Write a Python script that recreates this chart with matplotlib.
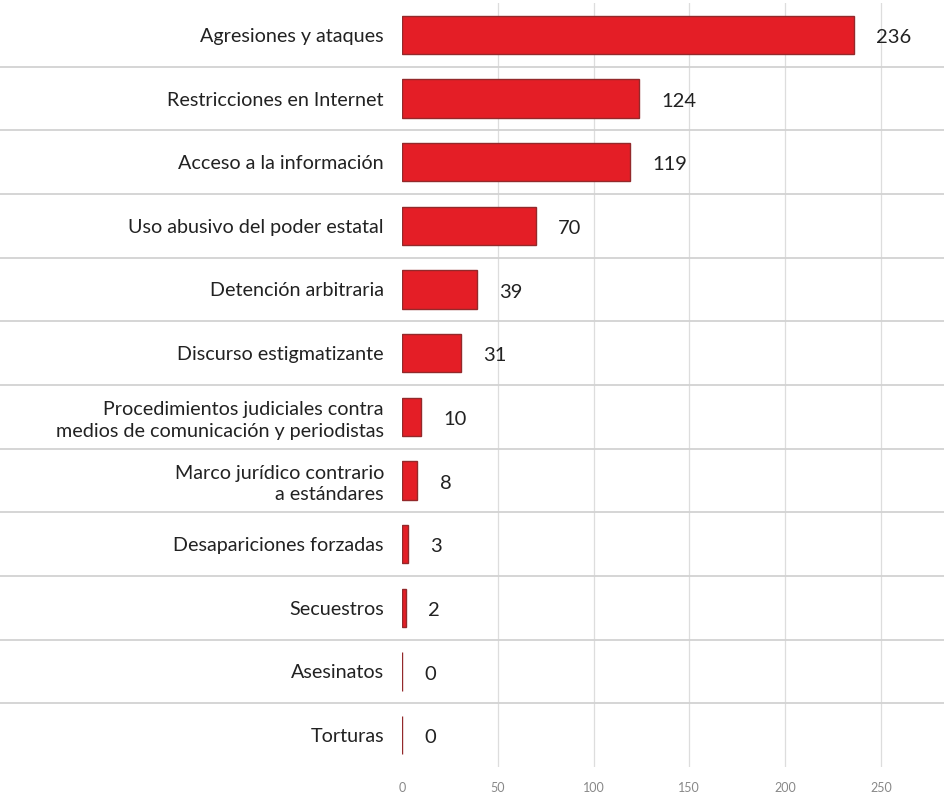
import matplotlib
matplotlib.use("Agg")
import matplotlib.pyplot as plt

categories = [
    "Agresiones y ataques",
    "Restricciones en Internet",
    "Acceso a la información",
    "Uso abusivo del poder estatal",
    "Detención arbitraria",
    "Discurso estigmatizante",
    "Procedimientos judiciales contra\nmedios de comunicación y periodistas",
    "Marco jurídico contrario\na estándares",
    "Desapariciones forzadas",
    "Secuestros",
    "Asesinatos",
    "Torturas",
]
values = [236, 124, 119, 70, 39, 31, 10, 8, 3, 2, 0, 0]
x_ticks = [0, 50, 100, 150, 200, 250]

plt.rcParams["font.family"] = ["Lato", "DejaVu Sans"]

fig = plt.figure(figsize=(9.44, 7.97), dpi=100)
ax = fig.add_axes([402 / 944, 1 - 767 / 797, 542 / 944, 764 / 797])

y = list(range(len(categories)))
ax.barh(y, values, height=0.6, color="#e41e26", edgecolor="#93292b", linewidth=1.0, zorder=3)

for yi, v in zip(y, values):
    ax.annotate(str(v), (v, yi), xytext=(16, -2), textcoords="offset points",
                ha="left", va="center", fontsize=14.5, color="#222222")

# vertical grid (no line at zero)
for t in x_ticks[1:]:
    ax.axvline(t, color="#dddddd", linewidth=0.9, zorder=0)

# row separators running under the labels too
left_ext = -402 / 542
for i in range(len(categories) - 1):
    ax.plot([left_ext, 1], [i + 0.5, i + 0.5], transform=ax.get_yaxis_transform(),
            color="#d2d2d2", linewidth=1.3, clip_on=False, zorder=1)

ax.set_xlim(0, 283)
ax.set_ylim(len(categories) - 0.5, -0.5)
ax.set_yticks(y)
ax.set_yticklabels(categories, fontsize=14.2, color="#222222", linespacing=1.3)
ax.set_xticks(x_ticks)
ax.set_xticklabels([str(t) for t in x_ticks], fontsize=9, color="#888888")
ax.tick_params(axis="y", length=0, pad=13)
ax.tick_params(axis="x", length=0, pad=11)
for s in ax.spines.values():
    s.set_visible(False)

fig.savefig("out.png", dpi=100)
